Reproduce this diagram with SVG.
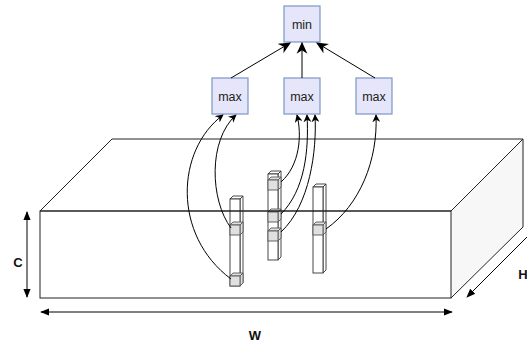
<svg xmlns="http://www.w3.org/2000/svg" width="527" height="347" viewBox="0 0 527 347">
<defs>
<marker id="ah" viewBox="0 0 10 10" refX="9" refY="5" markerWidth="12" markerHeight="12" markerUnits="userSpaceOnUse" orient="auto"><path d="M0,0.5 L10,5 L0,9.5 L3,5 Z" fill="#000"/></marker>
<marker id="as" viewBox="0 0 10 10" refX="9" refY="5" markerWidth="8" markerHeight="8" markerUnits="userSpaceOnUse" orient="auto"><path d="M0,0 L10,5 L0,10 L3,5 Z" fill="#000"/></marker>
<marker id="ad" viewBox="0 0 10 10" refX="9" refY="5" markerWidth="9" markerHeight="9" markerUnits="userSpaceOnUse" orient="auto-start-reverse"><path d="M0,1 L10,5 L0,9 Z" fill="#000"/></marker>
</defs>
<style>
.nd rect{fill:#e6e6fa;stroke:#7b97c9;stroke-width:1.2}
.nd text{font-family:"Liberation Sans",Arial,sans-serif;font-size:12.5px;fill:#222;text-anchor:middle}
.edge{fill:none;stroke:#000;stroke-width:1}
.lbl{font-family:"Liberation Sans",Arial,sans-serif;font-size:13px;font-weight:bold;fill:#111;text-anchor:middle}
.col{fill:#fff;stroke:#333;stroke-width:0.9}
.cell{fill:#e0e0e0;stroke:#555;stroke-width:0.9}
.bx{fill:none;stroke:#222;stroke-width:1}
</style>
<g id="box">
<polygon points="40,211 112,139 523,139 451,211" fill="#fff"/>
<rect x="40" y="211" width="411" height="87" fill="#fff"/>
<polygon points="451,211 523,139 523,227 451,298" fill="#f7f7f7"/>
</g>
<g id="column1">
<polygon class="col" points="230,199 233,196 243,196 240,199"/>
<polygon class="col" points="240,199 243,196 243,283 240,286"/>
<rect class="col" x="230" y="199" width="10" height="87"/>
<g class="cell"><polygon points="230,225 233,222 243,222 240,225"/><polygon points="240,225 243,222 243,232 240,235"/><rect x="230" y="225" width="10" height="10"/></g>
<g class="cell"><polygon points="230,276 233,273 243,273 240,276"/><polygon points="240,276 243,273 243,283 240,286"/><rect x="230" y="276" width="10" height="10"/></g>
</g>
<g id="column2">
<polygon class="col" points="268,174 271,171 281,171 278,174"/>
<polygon class="col" points="278,174 281,171 281,257 278,260"/>
<rect class="col" x="268" y="174" width="10" height="86"/>
<g class="cell"><polygon points="268,180 271,177 281,177 278,180"/><polygon points="278,180 281,177 281,187 278,190"/><rect x="268" y="180" width="10" height="10"/></g>
<g class="cell"><polygon points="268,212 271,209 281,209 278,212"/><polygon points="278,212 281,209 281,219 278,222"/><rect x="268" y="212" width="10" height="10"/></g>
<g class="cell"><polygon points="268,231 271,228 281,228 278,231"/><polygon points="278,231 281,228 281,238 278,241"/><rect x="268" y="231" width="10" height="10"/></g>
</g>
<g id="column3">
<polygon class="col" points="313,187 316,184 326,184 323,187"/>
<polygon class="col" points="323,187 326,184 326,270 323,273"/>
<rect class="col" x="313" y="187" width="10" height="86"/>
<g class="cell"><polygon points="313,225 316,222 326,222 323,225"/><polygon points="323,225 326,222 326,232 323,235"/><rect x="313" y="225" width="10" height="10"/></g>
</g>
<g id="box-edges">
<polygon class="bx" points="40,211 112,139 523,139 451,211"/>
<rect class="bx" x="40" y="211" width="411" height="87" stroke="#444"/>
<polyline class="bx" points="523,139 523,227 451,298"/>
</g>
<g id="dimensions">
<line class="edge" x1="27" y1="212" x2="27" y2="297" marker-start="url(#ad)" marker-end="url(#ad)"/>
<line class="edge" x1="41" y1="312" x2="452" y2="312" marker-start="url(#ad)" marker-end="url(#ad)"/>
<line class="edge" x1="529" y1="235" x2="467" y2="297" marker-end="url(#ad)"/>
<text class="lbl" x="18" y="267">C</text>
<text class="lbl" x="255" y="340">W</text>
<text class="lbl" x="523" y="279">H</text>
</g>
<g id="node-min" class="nd"><rect x="284" y="6" width="36" height="36"/><text x="302" y="28.5">min</text></g>
<g id="node-max1" class="nd"><rect x="212" y="78" width="36" height="36"/><text x="230" y="100.5">max</text></g>
<g id="node-max2" class="nd"><rect x="284" y="78" width="36" height="36"/><text x="302" y="100.5">max</text></g>
<g id="node-max3" class="nd"><rect x="356" y="78" width="36" height="36"/><text x="374" y="100.5">max</text></g>
<g id="connectors">
<line class="edge" x1="231" y1="78" x2="290" y2="43" marker-end="url(#ah)"/>
<line class="edge" x1="302" y1="78" x2="302" y2="43" marker-end="url(#ah)"/>
<line class="edge" x1="375" y1="78" x2="317" y2="43" marker-end="url(#ah)"/>
<path class="edge" d="M231,279 C172,235 176,150 223,115" marker-end="url(#as)"/>
<path class="edge" d="M231,228 C210,200 208,140 236,115" marker-end="url(#as)"/>
<path class="edge" d="M281,182 C300,165 302,135 297,115" marker-end="url(#as)"/>
<path class="edge" d="M281,214 C305,190 309,150 307,115" marker-end="url(#as)"/>
<path class="edge" d="M281,232 C310,205 317,150 315,115" marker-end="url(#as)"/>
<path class="edge" d="M326,229 C360,205 378,160 376,115" marker-end="url(#as)"/>
</g>
</svg>
